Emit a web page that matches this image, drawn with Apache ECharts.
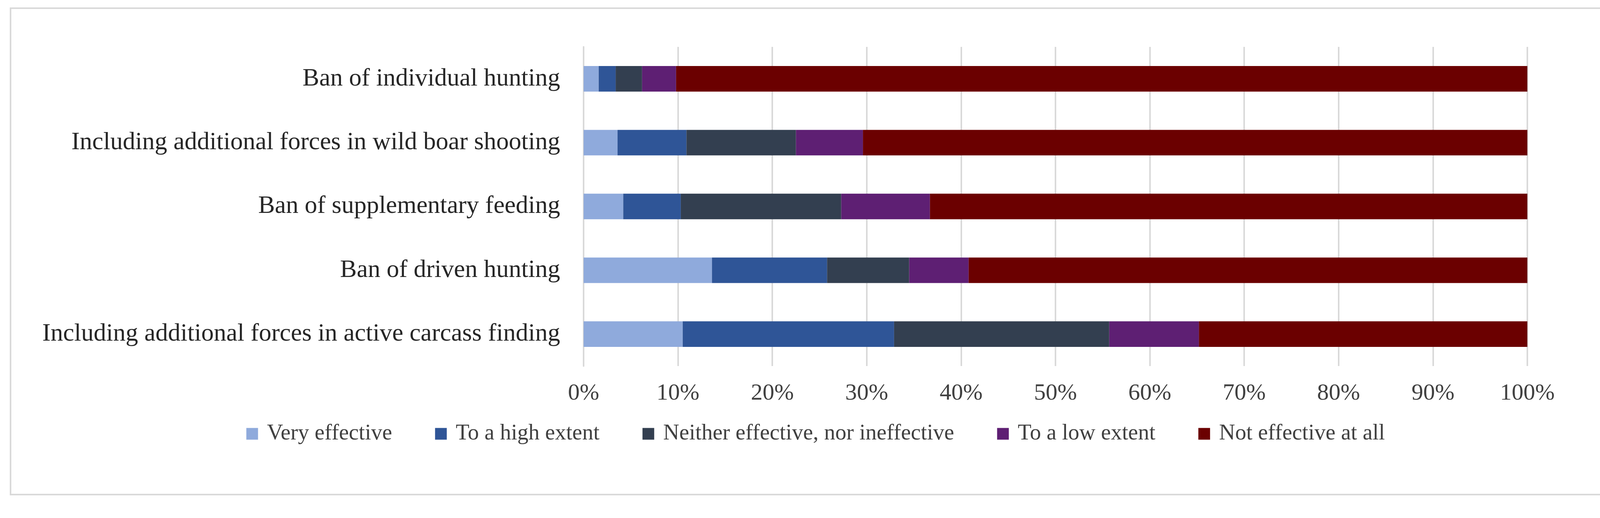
<!DOCTYPE html>
<html>
<head>
<meta charset="utf-8">
<script src="https://cdn.jsdelivr.net/npm/echarts@6/dist/echarts.min.js"></script>
<style>html,body{margin:0;padding:0;background:#fff}#main{width:4176px;height:1326px}</style>
</head>
<body>
<div id="main"></div>
<script>
    // top to bottom
    var categories = [
        'Ban of individual hunting',
        'Including additional forces in wild boar shooting',
        'Ban of supplementary feeding',
        'Ban of driven hunting',
        'Including additional forces in active carcass finding'
    ];
    var veryEffective = [1.6, 3.6, 4.2, 13.6, 10.5];
    var highExtent = [1.8, 7.3, 6.1, 12.2, 22.4];
    var neither = [2.8, 11.6, 17.0, 8.7, 22.8];
    var lowExtent = [3.6, 7.1, 9.4, 6.3, 9.5];
    var notEffective = [90.2, 70.4, 63.3, 59.2, 34.8];

    var seriesNames = ['Very effective', 'To a high extent', 'Neither effective, nor ineffective', 'To a low extent', 'Not effective at all'];
    var seriesColors = ['#8faadc', '#2f5597', '#333f50', '#5e1f73', '#6b0000'];
    var seriesData = [veryEffective, highExtent, neither, lowExtent, notEffective];

    var font = 'Liberation Serif';
    var myChart = echarts.init(document.getElementById('main'));
    var option = {
        animation: false,
        textStyle: { fontFamily: font },
        graphic: [{
            type: 'rect',
            shape: { x: 27, y: 21, width: 4122, height: 1245 },
            style: { fill: 'none', stroke: '#d9d9d9', lineWidth: 4 }
        }],
        grid: { left: 1494, right: 266, top: 120, bottom: 389 },
        legend: {
            bottom: 182,
            left: 'center',
            itemWidth: 30,
            itemHeight: 30,
            itemGap: 110,
            icon: 'rect',
            textStyle: { fontSize: 57, color: '#404040', fontFamily: font, padding: [0, 0, 0, 18] }
        },
        xAxis: {
            type: 'value',
            min: 0,
            max: 100,
            interval: 10,
            axisLabel: { formatter: '{value}%', fontSize: 60, color: '#404040', margin: 40 },
            splitLine: { lineStyle: { color: '#d9d9d9', width: 4 } },
            axisLine: { show: false },
            axisTick: { show: false }
        },
        yAxis: {
            type: 'category',
            inverse: true,
            data: categories,
            axisLabel: { fontSize: 64, color: '#262626', margin: 60 },
            axisLine: { lineStyle: { color: '#d9d9d9', width: 4 } },
            axisTick: { show: false }
        },
        series: seriesNames.map(function(name, i) {
            return {
                name: name,
                type: 'bar',
                stack: 'total',
                barWidth: '40%',
                itemStyle: { color: seriesColors[i] },
                data: seriesData[i]
            };
        })
    };
    myChart.setOption(option);
</script>
</body>
</html>
